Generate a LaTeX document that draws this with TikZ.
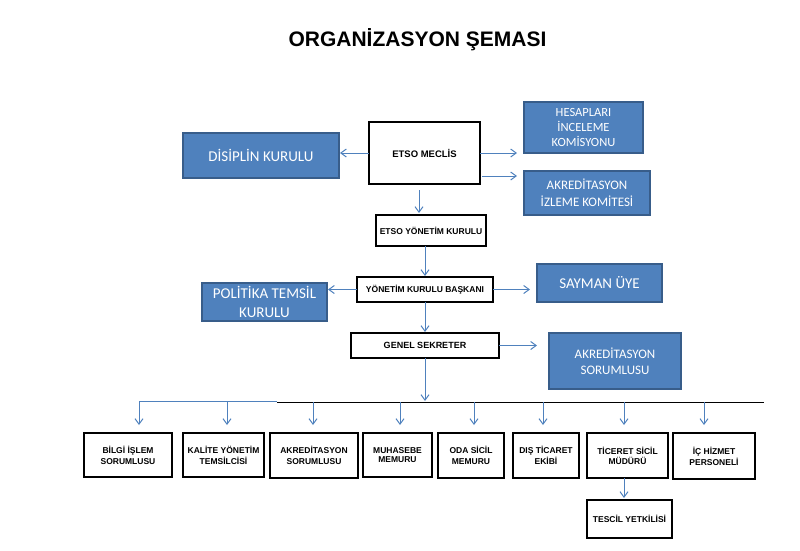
\documentclass[tikz,border=0pt]{standalone}
\usepackage{fontspec}
\setmainfont{Liberation Sans}
\newfontfamily\calib{Carlito}
\usetikzlibrary{arrows.meta,calc}
\definecolor{bfill}{HTML}{4F81BD}
\definecolor{bdr}{HTML}{385D8A}
\definecolor{lnc}{HTML}{4F81BD}
\begin{document}
\begin{tikzpicture}[x=1pt,y=-1pt,
  blk/.style={draw=black, line width=1.2pt, fill=white, inner sep=0pt, outer sep=0pt, align=center,
    font=\bfseries\fontsize{8.5}{11}\selectfont},
  blu/.style={draw=bdr, fill=bfill, line width=1.6pt, inner sep=0pt, outer sep=0pt, align=center, text=white,
    font=\calib\fontsize{15}{18.5}\selectfont},
  bsmall/.style={font=\calib\fontsize{12.5}{15}\selectfont},
  arr/.style={draw=lnc, line width=1pt, -{Straight Barb[length=5.5pt,width=8pt]}},
  bus/.style={line width=1.3pt}]
\useasboundingbox (0,0) rectangle (800,550);
\node[font=\bfseries\fontsize{21}{24}\selectfont, inner sep=0pt] (title) at (417.5,40) {ORGANİZASYON ŞEMASI};

% top
\node[blk, minimum width=111pt, minimum height=62pt, font=\bfseries\fontsize{9.5}{11}\selectfont] (meclis) at (424.5,153) {ETSO MECLİS};
\node[blu, minimum width=156pt, minimum height=45pt] (disiplin) at (261,155.5) {\raisebox{-1.5pt}{DİSİPLİN KURULU}};
\node[blu, bsmall, minimum width=119pt, minimum height=51pt] (hesap) at (583.5,127.5) {HESAPLARI\\İNCELEME\\KOMİSYONU};
\node[blu, minimum width=126pt, minimum height=44pt, font=\calib\fontsize{13}{17}\selectfont] (izleme) at (587,193) {AKREDİTASYON\\İZLEME KOMİTESİ};
\node[blk, minimum width=110pt, minimum height=31pt] (yk) at (431,230.5) {ETSO YÖNETİM KURULU};
\node[blk, minimum width=136pt, minimum height=25pt] (ykb) at (425,289.5) {\raisebox{-4pt}{YÖNETİM KURULU BAŞKANI}};
\node[blu, minimum width=125pt, minimum height=38pt] (sayman) at (599.5,283) {SAYMAN ÜYE};
\node[blu, minimum width=125pt, minimum height=38pt] (politika) at (264.5,302) {POLİTİKA TEMSİL\\KURULU};
\node[blk, minimum width=148pt, minimum height=25pt, font=\bfseries\fontsize{9}{11}\selectfont] (gs) at (425,345.5) {GENEL SEKRETER};
\node[blu, minimum width=132pt, minimum height=56pt, font=\calib\fontsize{13}{16}\selectfont] (akrsor) at (615,361) {AKREDİTASYON\\SORUMLUSU};

% bottom row
\node[blk, minimum width=88pt, minimum height=44pt] (bilgi) at (128,455) {BİLGİ İŞLEM\\SORUMLUSU};
\node[blk, minimum width=81pt, minimum height=44pt] (kalite) at (223.5,455) {KALİTE  YÖNETİM\\TEMSİLCİSİ};
\node[blk, minimum width=88pt, minimum height=45pt] (akred) at (314,455.5) {AKREDİTASYON\\SORUMLUSU};
\node[blk, minimum width=69pt, minimum height=44pt, font=\bfseries\fontsize{8.5}{8.5}\selectfont] (muh) at (397.5,455) {MUHASEBE\\MEMURU};
\node[blk, minimum width=66pt, minimum height=45pt] (oda) at (471,455.5) {ODA SİCİL\\MEMURU};
\node[blk, minimum width=66pt, minimum height=45pt] (dis) at (546,455.5) {DIŞ TİCARET\\EKİBİ};
\node[blk, minimum width=81pt, minimum height=45pt, font=\bfseries\fontsize{8.5}{10}\selectfont] (tic) at (627.5,455.5) {TİCERET SİCİL\\MÜDÜRÜ};
\node[blk, minimum width=82pt, minimum height=46pt] (ic) at (714,456) {İÇ HİZMET\\PERSONELİ};
\node[blk, minimum width=85pt, minimum height=38pt] (tes) at (629.5,519) {TESCİL YETKİLİSİ};

% connectors top
\draw[arr, shorten >=1pt] (meclis.west) -- (meclis.west -| disiplin.east);
\draw[arr, shorten >=7pt] (meclis.east) -- (meclis.east -| hesap.west);
\coordinate (m2) at ($(meclis.east)+(2,23)$);
\draw[arr, shorten >=7pt] (m2) -- (m2 -| izleme.west);
\coordinate (m1) at ($(meclis.south)+(-5.5,6)$);
\draw[arr, shorten >=2pt] (m1) -- (m1 |- yk.north);
\draw[arr, shorten >=1pt] (yk.south -| ykb.north) -- (ykb.north);
\draw[arr, shorten >=1pt] (ykb.west) -- (ykb.west -| politika.east);
\draw[arr, shorten >=7pt] (ykb.east) -- (ykb.east -| sayman.west);
\draw[arr, shorten >=1pt] (ykb.south) -- (gs.north);
\draw[arr, shorten >=12pt] (gs.east) -- (gs.east -| akrsor.west);

% bus
\coordinate (busc) at (425,401);
\draw[arr] (gs.south) -- (busc);
\coordinate (bl) at (139,401.5);
\coordinate (bm) at (277,401.5);
\coordinate (bmk) at (277,402.5);
\coordinate (br) at (764,402.5);
\draw[bus, draw=lnc] (bl) -- (bm);
\draw[bus, draw=black] (bmk) -- (br);
\foreach \x/\n in {139/bilgi,227/kalite,313/akred,400/muh,474/oda,543/dis,624/tic,704/ic}{
  \coordinate (b\n) at (\x,402);
  \draw[arr, shorten >=8pt] (b\n) -- (b\n |- \n.north);
}
\coordinate (t1) at ($(tic.south)+(-3.5,0)$);
\draw[arr, shorten >=2pt] (t1) -- (t1 |- tes.north);
\end{tikzpicture}
\end{document}
